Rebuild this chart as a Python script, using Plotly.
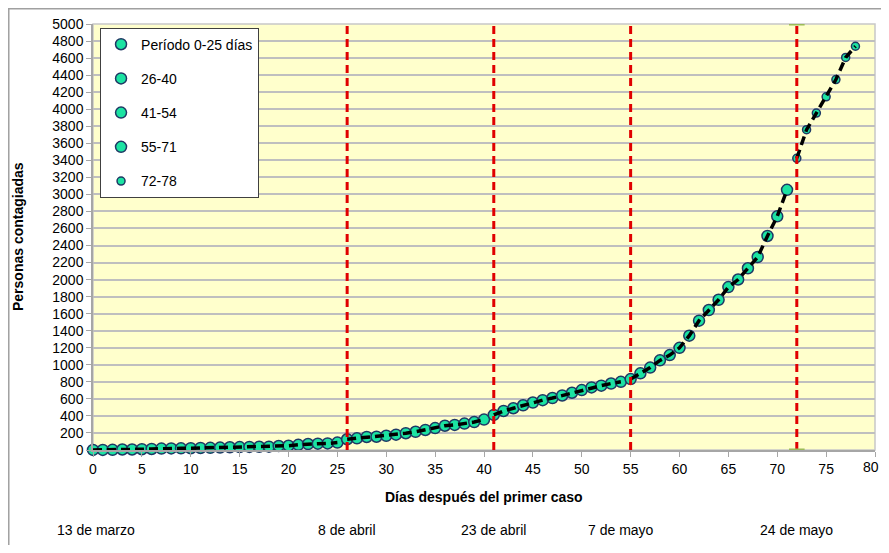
import plotly.graph_objects as go

# ---- data ----
days = list(range(79))
cases = [1, 1, 2, 6, 6, 9, 12, 17, 19, 20, 21, 24, 25, 28, 32, 34, 36, 38, 39, 47,
         50, 61, 70, 74, 77, 87,
         126, 137, 153, 156, 167, 180, 197, 214, 235, 257, 285, 294, 310, 328, 357,
         412, 458, 490, 525, 557, 585, 610, 640, 672, 703, 735, 755, 780, 800,
         832, 900, 967, 1052, 1114, 1199, 1342, 1518, 1643, 1763, 1912, 2001, 2133,
         2265, 2512, 2743, 3054,
         3424, 3760, 3954, 4145, 4348, 4607, 4739]
period_names = ["Período 0-25 días", "26-40", "41-54", "55-71", "72-78"]
period_start = [0, 26, 41, 55, 72]
period_end = [25, 40, 54, 71, 78]
boundaries = [26, 41, 55, 72]
date_labels = ["13 de marzo", "8 de abril", "23 de abril", "7 de mayo", "24 de mayo"]
date_days = [0.3, 26, 41, 54, 72]
x_ticks = list(range(0, 81, 5))
y_ticks = list(range(0, 5001, 200))

FONT = "Liberation Sans, Arial, sans-serif"
fill = "#1BE3A2"
edge = "#1F3864"

fig = go.Figure()

# markers
for i, name in enumerate(period_names):
    xs = days[period_start[i]:period_end[i] + 1]
    ys = cases[period_start[i]:period_end[i] + 1]
    size = 8 if i == 4 else 11
    fig.add_trace(go.Scatter(
        x=xs, y=ys, mode="markers", name=name, legendgroup=f"g{i}",
        marker=dict(size=size, color=fill, line=dict(color=edge, width=1.5)),
        cliponaxis=False,
    ))

# dashed black lines on top
for i, name in enumerate(period_names):
    xs = days[period_start[i]:period_end[i] + 1]
    ys = cases[period_start[i]:period_end[i] + 1]
    fig.add_trace(go.Scatter(
        x=xs, y=ys, mode="lines", showlegend=False, hoverinfo="skip",
        line=dict(color="black", width=3.5, dash="9px,5px"),
    ))

shapes = []
for b in boundaries:
    shapes.append(dict(type="line", xref="x", yref="y", x0=b, x1=b, y0=0, y1=5000,
                       line=dict(color="#E00000", width=3, dash="8px,5px"), layer="above"))
# small green marks at x=72
for yv in (0, 5000):
    shapes.append(dict(type="line", xref="x", yref="y", x0=71.2, x1=72.8, y0=yv, y1=yv,
                       line=dict(color="#9BBB59", width=3), layer="above"))
# plot area border
shapes.append(dict(type="rect", xref="paper", yref="paper", x0=0, x1=1, y0=0, y1=1,
                   line=dict(color="#C8C8C8", width=1.5), layer="below"))
# outer chart border
shapes.append(dict(type="rect", xref="paper", yref="paper", x0=-0.1077, x1=1.1, y0=-0.5, y1=1.0358,
                   line=dict(color="#A0A0A0", width=1.5)))

annotations = []
# last x tick label placed so it stays inside the page
annotations.append(dict(x=x_ticks[-1], y=0, xref="x", yref="paper", xanchor="right", yanchor="top",
                        xshift=6, yshift=-7, text=str(x_ticks[-1]), showarrow=False,
                        font=dict(family=FONT, size=14, color="black")))
for lab, d in zip(date_labels, date_days):
    annotations.append(dict(x=d, y=0, xref="x", yref="paper", yshift=-80, text=lab,
                            showarrow=False, font=dict(family=FONT, size=14, color="black"),
                            xanchor="center", yanchor="middle"))
annotations.append(dict(x=0.5, y=0, xref="paper", yref="paper", yshift=-47,
                        text="<b>Días después del primer caso</b>", showarrow=False,
                        font=dict(family=FONT, size=14, color="black"),
                        xanchor="center", yanchor="middle"))
annotations.append(dict(x=0, y=0.5, xref="paper", yref="paper", xshift=-75,
                        text="<b>Personas contagiadas</b>", showarrow=False, textangle=-90,
                        font=dict(family=FONT, size=14, color="black"),
                        xanchor="center", yanchor="middle"))

fig.update_layout(
    width=873, height=537,
    margin=dict(l=85, r=6, t=16, b=95),
    paper_bgcolor="white", plot_bgcolor="#FFFFCC",
    font=dict(family=FONT, size=14, color="black"),
    showlegend=True,
    legend=dict(x=0.009, y=0.9915, xanchor="left", yanchor="top",
                bgcolor="white", bordercolor="#404040", borderwidth=1,
                font=dict(family=FONT, size=14, color="black"),
                tracegroupgap=13, itemsizing="trace"),
    xaxis=dict(range=[0, 80], tickmode="array", tickvals=x_ticks,
               ticktext=[str(v) for v in x_ticks[:-1]] + [""], showgrid=False,
               zeroline=False, showline=True, linecolor="#A6A6A6", linewidth=1.5,
               ticks="outside", ticklen=5, tickcolor="#A6A6A6",
               tickfont=dict(family=FONT, size=14)),
    yaxis=dict(range=[0, 5000], tickmode="array", tickvals=y_ticks, showgrid=True,
               gridcolor="#BFBFBF", gridwidth=1.5, zeroline=False, showline=True,
               linecolor="#A6A6A6", linewidth=1.5, ticks="outside", ticklen=5,
               tickcolor="#A6A6A6", tickfont=dict(family=FONT, size=14)),
    shapes=shapes, annotations=annotations,
)

fig.write_html("out.html", config={"displayModeBar": False})
